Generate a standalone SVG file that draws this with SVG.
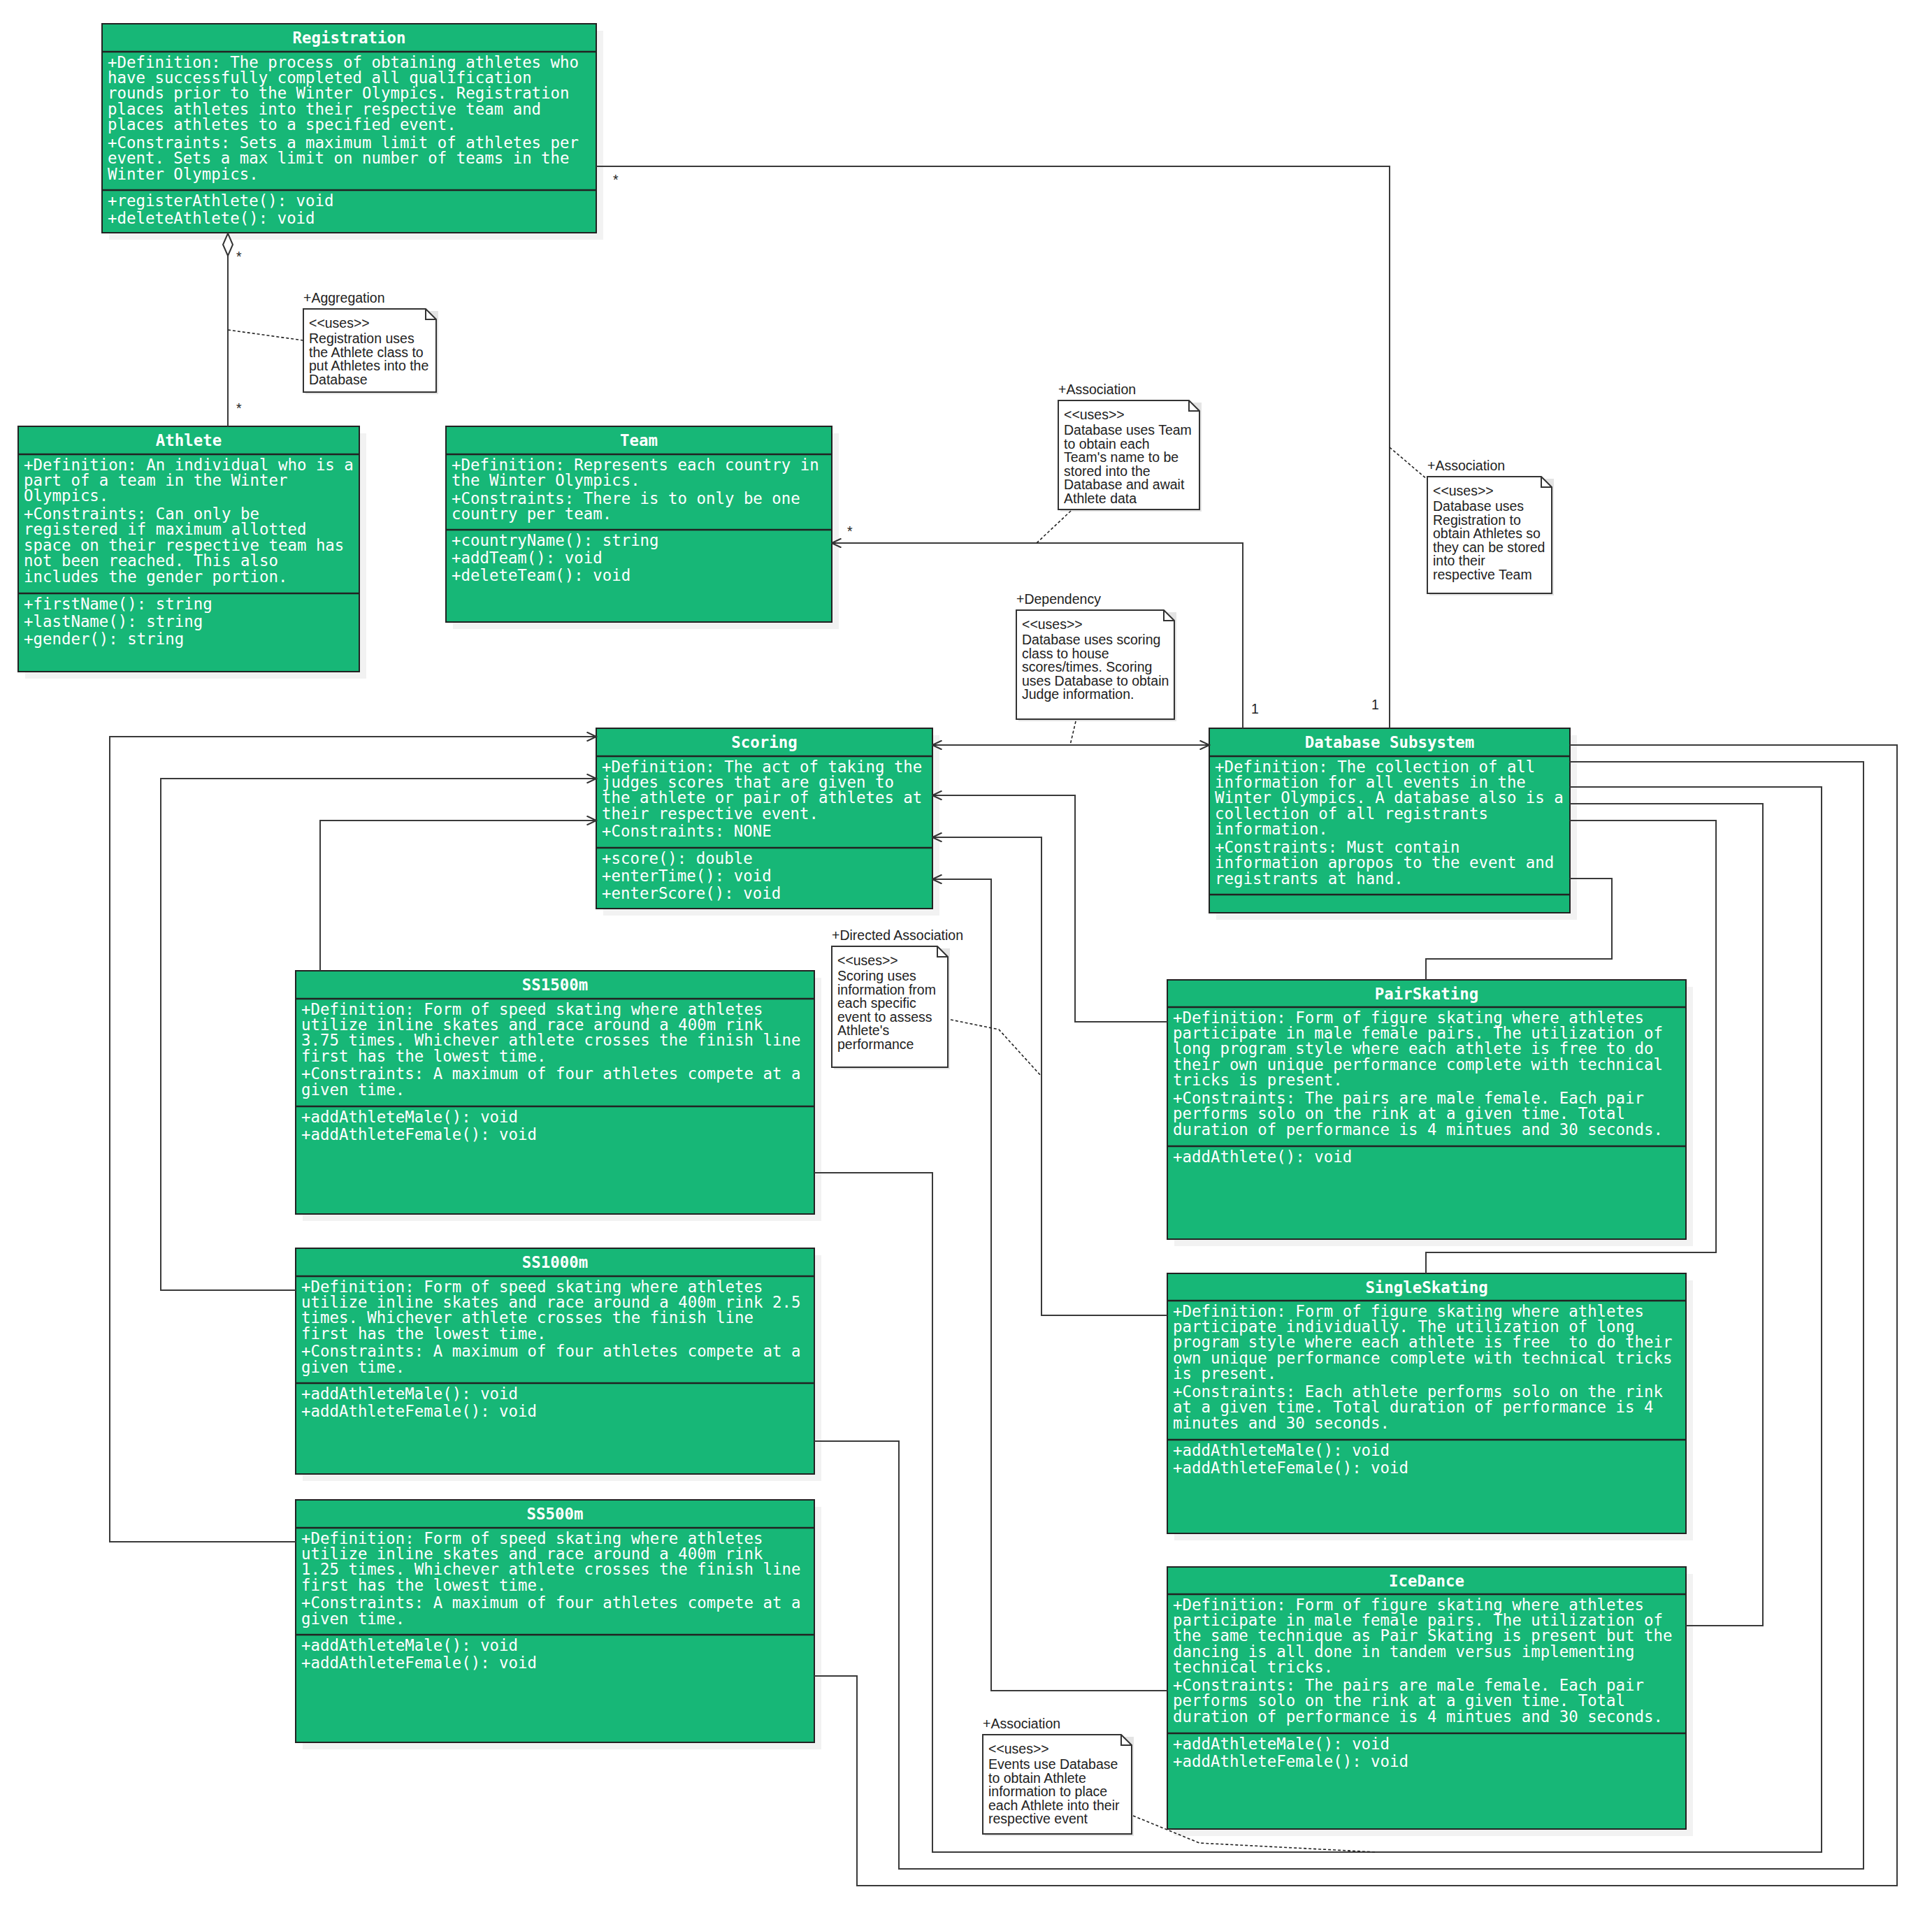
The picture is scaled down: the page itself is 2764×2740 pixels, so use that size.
<svg xmlns="http://www.w3.org/2000/svg" width="2764" height="2740" viewBox="0 0 2764 2740">
<defs>
<style>
.sh{fill:#f2f2f2}
.box{fill:#17b777;stroke:#222;stroke-width:2}
.dv{stroke:#222;stroke-width:2.5}
.t{font-family:"DejaVu Sans Mono","Liberation Mono",monospace;font-size:22.4px;fill:#fff}
.h{font-weight:bold;text-anchor:middle}
.nsh{fill:#e4e4e4}
.note{fill:#fff;stroke:#333;stroke-width:2}
.fold{fill:none;stroke:#333;stroke-width:2}
.nt{font-family:"Liberation Sans",Arial,sans-serif;font-size:19.5px;fill:#222}
.c{fill:none;stroke:#3a3a3a;stroke-width:2}
.a{marker-end:url(#arr)}
.d{fill:none;stroke:#222;stroke-width:1.6;stroke-dasharray:4 3}
</style>
<marker id="arr" viewBox="0 0 16 14" markerWidth="16" markerHeight="14" refX="14.5" refY="7" orient="auto-start-reverse" markerUnits="userSpaceOnUse">
<path d="M1,0.5 L14.5,7 L1,13.5" fill="none" stroke="#333" stroke-width="2"/>
</marker>
</defs>
<rect width="2764" height="2740" fill="#fff"/>

<g id="Registration">
<rect class="sh" x="156" y="44" width="707" height="299"/>
<rect class="box" x="146" y="34" width="707" height="299"/>
<line class="dv" x1="146" y1="74" x2="853" y2="74"/>
<line class="dv" x1="146" y1="272" x2="853" y2="272"/>
<text class="t h" x="499.5" y="62">Registration</text>
<text class="t"><tspan x="154" y="96.5">+Definition: The process of obtaining athletes who</tspan><tspan x="154" y="118.9">have successfully completed all qualification</tspan><tspan x="154" y="141.3">rounds prior to the Winter Olympics. Registration</tspan><tspan x="154" y="163.7">places athletes into their respective team and</tspan><tspan x="154" y="186.1">places athletes to a specified event.</tspan><tspan x="154" y="211.7">+Constraints: Sets a maximum limit of athletes per</tspan><tspan x="154" y="234.1">event. Sets a max limit on number of teams in the</tspan><tspan x="154" y="256.5">Winter Olympics.</tspan><tspan x="154" y="294.5">+registerAthlete(): void</tspan><tspan x="154" y="319.5">+deleteAthlete(): void</tspan></text>
</g>

<g id="Athlete">
<rect class="sh" x="36" y="620" width="488" height="351"/>
<rect class="box" x="26" y="610" width="488" height="351"/>
<line class="dv" x1="26" y1="650" x2="514" y2="650"/>
<line class="dv" x1="26" y1="849" x2="514" y2="849"/>
<text class="t h" x="270" y="638">Athlete</text>
<text class="t"><tspan x="34" y="672.5">+Definition: An individual who is a</tspan><tspan x="34" y="694.9">part of a team in the Winter</tspan><tspan x="34" y="717.3">Olympics.</tspan><tspan x="34" y="742.9">+Constraints: Can only be</tspan><tspan x="34" y="765.3">registered if maximum allotted</tspan><tspan x="34" y="787.7">space on their respective team has</tspan><tspan x="34" y="810.1">not been reached. This also</tspan><tspan x="34" y="832.5">includes the gender portion.</tspan><tspan x="34" y="871.5">+firstName(): string</tspan><tspan x="34" y="896.5">+lastName(): string</tspan><tspan x="34" y="921.5">+gender(): string</tspan></text>
</g>

<g id="Team">
<rect class="sh" x="648" y="620" width="552" height="280"/>
<rect class="box" x="638" y="610" width="552" height="280"/>
<line class="dv" x1="638" y1="650" x2="1190" y2="650"/>
<line class="dv" x1="638" y1="758" x2="1190" y2="758"/>
<text class="t h" x="914" y="638">Team</text>
<text class="t"><tspan x="646" y="672.5">+Definition: Represents each country in</tspan><tspan x="646" y="694.9">the Winter Olympics.</tspan><tspan x="646" y="720.5">+Constraints: There is to only be one</tspan><tspan x="646" y="742.9">country per team.</tspan><tspan x="646" y="780.5">+countryName(): string</tspan><tspan x="646" y="805.5">+addTeam(): void</tspan><tspan x="646" y="830.5">+deleteTeam(): void</tspan></text>
</g>

<g id="Scoring">
<rect class="sh" x="863" y="1052" width="481" height="258"/>
<rect class="box" x="853" y="1042" width="481" height="258"/>
<line class="dv" x1="853" y1="1082" x2="1334" y2="1082"/>
<line class="dv" x1="853" y1="1213" x2="1334" y2="1213"/>
<text class="t h" x="1093.5" y="1070">Scoring</text>
<text class="t"><tspan x="861" y="1104.5">+Definition: The act of taking the</tspan><tspan x="861" y="1126.9">judges scores that are given to</tspan><tspan x="861" y="1149.3">the athlete or pair of athletes at</tspan><tspan x="861" y="1171.7">their respective event.</tspan><tspan x="861" y="1197.3">+Constraints: NONE</tspan><tspan x="861" y="1235.5">+score(): double</tspan><tspan x="861" y="1260.5">+enterTime(): void</tspan><tspan x="861" y="1285.5">+enterScore(): void</tspan></text>
</g>

<g id="DatabaseSubsystem">
<rect class="sh" x="1740" y="1052" width="516" height="264"/>
<rect class="box" x="1730" y="1042" width="516" height="264"/>
<line class="dv" x1="1730" y1="1082" x2="2246" y2="1082"/>
<line class="dv" x1="1730" y1="1280" x2="2246" y2="1280"/>
<text class="t h" x="1988" y="1070">Database Subsystem</text>
<text class="t"><tspan x="1738" y="1104.5">+Definition: The collection of all</tspan><tspan x="1738" y="1126.9">information for all events in the</tspan><tspan x="1738" y="1149.3">Winter Olympics. A database also is a</tspan><tspan x="1738" y="1171.7">collection of all registrants</tspan><tspan x="1738" y="1194.1">information.</tspan><tspan x="1738" y="1219.7">+Constraints: Must contain</tspan><tspan x="1738" y="1242.1">information apropos to the event and</tspan><tspan x="1738" y="1264.5">registrants at hand.</tspan></text>
</g>

<g id="SS1500m">
<rect class="sh" x="433" y="1399" width="742" height="348"/>
<rect class="box" x="423" y="1389" width="742" height="348"/>
<line class="dv" x1="423" y1="1429" x2="1165" y2="1429"/>
<line class="dv" x1="423" y1="1583" x2="1165" y2="1583"/>
<text class="t h" x="794" y="1417">SS1500m</text>
<text class="t"><tspan x="431" y="1451.5">+Definition: Form of speed skating where athletes</tspan><tspan x="431" y="1473.9">utilize inline skates and race around a 400m rink</tspan><tspan x="431" y="1496.3">3.75 times. Whichever athlete crosses the finish line</tspan><tspan x="431" y="1518.7">first has the lowest time.</tspan><tspan x="431" y="1544.3">+Constraints: A maximum of four athletes compete at a</tspan><tspan x="431" y="1566.7">given time.</tspan><tspan x="431" y="1605.5">+addAthleteMale(): void</tspan><tspan x="431" y="1630.5">+addAthleteFemale(): void</tspan></text>
</g>

<g id="SS1000m">
<rect class="sh" x="433" y="1796" width="742" height="323"/>
<rect class="box" x="423" y="1786" width="742" height="323"/>
<line class="dv" x1="423" y1="1826" x2="1165" y2="1826"/>
<line class="dv" x1="423" y1="1979" x2="1165" y2="1979"/>
<text class="t h" x="794" y="1814">SS1000m</text>
<text class="t"><tspan x="431" y="1848.5">+Definition: Form of speed skating where athletes</tspan><tspan x="431" y="1870.9">utilize inline skates and race around a 400m rink 2.5</tspan><tspan x="431" y="1893.3">times. Whichever athlete crosses the finish line</tspan><tspan x="431" y="1915.7">first has the lowest time.</tspan><tspan x="431" y="1941.3">+Constraints: A maximum of four athletes compete at a</tspan><tspan x="431" y="1963.7">given time.</tspan><tspan x="431" y="2001.5">+addAthleteMale(): void</tspan><tspan x="431" y="2026.5">+addAthleteFemale(): void</tspan></text>
</g>

<g id="SS500m">
<rect class="sh" x="433" y="2156" width="742" height="347"/>
<rect class="box" x="423" y="2146" width="742" height="347"/>
<line class="dv" x1="423" y1="2186" x2="1165" y2="2186"/>
<line class="dv" x1="423" y1="2339" x2="1165" y2="2339"/>
<text class="t h" x="794" y="2174">SS500m</text>
<text class="t"><tspan x="431" y="2208.5">+Definition: Form of speed skating where athletes</tspan><tspan x="431" y="2230.9">utilize inline skates and race around a 400m rink</tspan><tspan x="431" y="2253.3">1.25 times. Whichever athlete crosses the finish line</tspan><tspan x="431" y="2275.7">first has the lowest time.</tspan><tspan x="431" y="2301.3">+Constraints: A maximum of four athletes compete at a</tspan><tspan x="431" y="2323.7">given time.</tspan><tspan x="431" y="2361.5">+addAthleteMale(): void</tspan><tspan x="431" y="2386.5">+addAthleteFemale(): void</tspan></text>
</g>

<g id="PairSkating">
<rect class="sh" x="1680" y="1412" width="742" height="371"/>
<rect class="box" x="1670" y="1402" width="742" height="371"/>
<line class="dv" x1="1670" y1="1441" x2="2412" y2="1441"/>
<line class="dv" x1="1670" y1="1640" x2="2412" y2="1640"/>
<text class="t h" x="2041" y="1430">PairSkating</text>
<text class="t"><tspan x="1678" y="1463.5">+Definition: Form of figure skating where athletes</tspan><tspan x="1678" y="1485.9">participate in male female pairs. The utilization of</tspan><tspan x="1678" y="1508.3">long program style where each athlete is free to do</tspan><tspan x="1678" y="1530.7">their own unique performance complete with technical</tspan><tspan x="1678" y="1553.1">tricks is present.</tspan><tspan x="1678" y="1578.7">+Constraints: The pairs are male female. Each pair</tspan><tspan x="1678" y="1601.1">performs solo on the rink at a given time. Total</tspan><tspan x="1678" y="1623.5">duration of performance is 4 mintues and 30 seconds.</tspan><tspan x="1678" y="1662.5">+addAthlete(): void</tspan></text>
</g>

<g id="SingleSkating">
<rect class="sh" x="1680" y="1832" width="742" height="372"/>
<rect class="box" x="1670" y="1822" width="742" height="372"/>
<line class="dv" x1="1670" y1="1861" x2="2412" y2="1861"/>
<line class="dv" x1="1670" y1="2060" x2="2412" y2="2060"/>
<text class="t h" x="2041" y="1850">SingleSkating</text>
<text class="t" xml:space="preserve"><tspan x="1678" y="1883.5">+Definition: Form of figure skating where athletes</tspan><tspan x="1678" y="1905.9">participate individually. The utilization of long</tspan><tspan x="1678" y="1928.3">program style where each athlete is free  to do their</tspan><tspan x="1678" y="1950.7">own unique performance complete with technical tricks</tspan><tspan x="1678" y="1973.1">is present.</tspan><tspan x="1678" y="1998.7">+Constraints: Each athlete performs solo on the rink</tspan><tspan x="1678" y="2021.1">at a given time. Total duration of performance is 4</tspan><tspan x="1678" y="2043.5">minutes and 30 seconds.</tspan><tspan x="1678" y="2082.5">+addAthleteMale(): void</tspan><tspan x="1678" y="2107.5">+addAthleteFemale(): void</tspan></text>
</g>

<g id="IceDance">
<rect class="sh" x="1680" y="2252" width="742" height="375"/>
<rect class="box" x="1670" y="2242" width="742" height="375"/>
<line class="dv" x1="1670" y1="2281" x2="2412" y2="2281"/>
<line class="dv" x1="1670" y1="2480" x2="2412" y2="2480"/>
<text class="t h" x="2041" y="2270">IceDance</text>
<text class="t"><tspan x="1678" y="2303.5">+Definition: Form of figure skating where athletes</tspan><tspan x="1678" y="2325.9">participate in male female pairs. The utilization of</tspan><tspan x="1678" y="2348.3">the same technique as Pair Skating is present but the</tspan><tspan x="1678" y="2370.7">dancing is all done in tandem versus implementing</tspan><tspan x="1678" y="2393.1">technical tricks.</tspan><tspan x="1678" y="2418.7">+Constraints: The pairs are male female. Each pair</tspan><tspan x="1678" y="2441.1">performs solo on the rink at a given time. Total</tspan><tspan x="1678" y="2463.5">duration of performance is 4 mintues and 30 seconds.</tspan><tspan x="1678" y="2502.5">+addAthleteMale(): void</tspan><tspan x="1678" y="2527.5">+addAthleteFemale(): void</tspan></text>
</g>

<g id="NoteAggregation">
<rect class="nsh" x="437" y="445" width="190" height="119"/>
<path class="note" d="M434,442 H609 L624,457 V561 H434 Z"/>
<path class="fold" d="M609,442 V457 H624"/>
<text class="nt" x="434" y="433">+Aggregation</text>
<text class="nt"><tspan x="442" y="469">&lt;&lt;uses&gt;&gt;</tspan><tspan x="442" y="491">Registration uses</tspan><tspan x="442" y="510.6">the Athlete class to</tspan><tspan x="442" y="530.2">put Athletes into the</tspan><tspan x="442" y="549.8">Database</tspan></text>
</g>

<g id="NoteTeamAssociation">
<rect class="nsh" x="1517" y="576" width="202" height="156"/>
<path class="note" d="M1514,573 H1701 L1716,588 V729 H1514 Z"/>
<path class="fold" d="M1701,573 V588 H1716"/>
<text class="nt" x="1514" y="564">+Association</text>
<text class="nt"><tspan x="1522" y="600">&lt;&lt;uses&gt;&gt;</tspan><tspan x="1522" y="622">Database uses Team</tspan><tspan x="1522" y="641.6">to obtain each</tspan><tspan x="1522" y="661.2">Team's name to be</tspan><tspan x="1522" y="680.8">stored into the</tspan><tspan x="1522" y="700.4">Database and await</tspan><tspan x="1522" y="720">Athlete data</tspan></text>
</g>

<g id="NoteRegAssociation">
<rect class="nsh" x="2045" y="685" width="178" height="167"/>
<path class="note" d="M2042,682 H2205 L2220,697 V849 H2042 Z"/>
<path class="fold" d="M2205,682 V697 H2220"/>
<text class="nt" x="2042" y="673">+Association</text>
<text class="nt"><tspan x="2050" y="709">&lt;&lt;uses&gt;&gt;</tspan><tspan x="2050" y="731">Database uses</tspan><tspan x="2050" y="750.6">Registration to</tspan><tspan x="2050" y="770.2">obtain Athletes so</tspan><tspan x="2050" y="789.8">they can be stored</tspan><tspan x="2050" y="809.4">into their</tspan><tspan x="2050" y="829">respective Team</tspan></text>
</g>

<g id="NoteDependency">
<rect class="nsh" x="1457" y="876" width="226" height="156"/>
<path class="note" d="M1454,873 H1665 L1680,888 V1029 H1454 Z"/>
<path class="fold" d="M1665,873 V888 H1680"/>
<text class="nt" x="1454" y="864">+Dependency</text>
<text class="nt"><tspan x="1462" y="900">&lt;&lt;uses&gt;&gt;</tspan><tspan x="1462" y="922">Database uses scoring</tspan><tspan x="1462" y="941.6">class to house</tspan><tspan x="1462" y="961.2">scores/times. Scoring</tspan><tspan x="1462" y="980.8">uses Database to obtain</tspan><tspan x="1462" y="1000.4">Judge information.</tspan></text>
</g>

<g id="NoteDirectedAssociation">
<rect class="nsh" x="1193" y="1357" width="166" height="173"/>
<path class="note" d="M1190,1354 H1341 L1356,1369 V1527 H1190 Z"/>
<path class="fold" d="M1341,1354 V1369 H1356"/>
<text class="nt" x="1190" y="1345">+Directed Association</text>
<text class="nt"><tspan x="1198" y="1381">&lt;&lt;uses&gt;&gt;</tspan><tspan x="1198" y="1403">Scoring uses</tspan><tspan x="1198" y="1422.6">information from</tspan><tspan x="1198" y="1442.2">each specific</tspan><tspan x="1198" y="1461.8">event to assess</tspan><tspan x="1198" y="1481.4">Athlete's</tspan><tspan x="1198" y="1501">performance</tspan></text>
</g>

<g id="NoteEventsAssociation">
<rect class="nsh" x="1409" y="2485" width="213" height="142"/>
<path class="note" d="M1406,2482 H1604 L1619,2497 V2624 H1406 Z"/>
<path class="fold" d="M1604,2482 V2497 H1619"/>
<text class="nt" x="1406" y="2473">+Association</text>
<text class="nt"><tspan x="1414" y="2509">&lt;&lt;uses&gt;&gt;</tspan><tspan x="1414" y="2531">Events use Database</tspan><tspan x="1414" y="2550.6">to obtain Athlete</tspan><tspan x="1414" y="2570.2">information to place</tspan><tspan x="1414" y="2589.8">each Athlete into their</tspan><tspan x="1414" y="2609.4">respective event</tspan></text>
</g>

<g id="connectors">
<polyline class="c" points="853,238 1988,238 1988,1042"/>
<polyline class="c" points="326,366 326,610"/>
<polygon points="326,334 333,350 326,366 319,350" fill="#fff" stroke="#333" stroke-width="2"/>
<polyline class="c a" points="1778,1042 1778,777 1190,777"/>
<line class="c" x1="1334" y1="1066" x2="1730" y2="1066" style="marker-start:url(#arr);marker-end:url(#arr)"/>
<polyline class="c a" points="458,1389 458,1174 853,1174"/>
<polyline class="c a" points="423,1846 230,1846 230,1114 853,1114"/>
<polyline class="c a" points="423,2206 157,2206 157,1054 853,1054"/>
<polyline class="c a" points="1670,1462 1538,1462 1538,1138 1334,1138"/>
<polyline class="c a" points="1670,1882 1490,1882 1490,1198 1334,1198"/>
<polyline class="c a" points="1670,2419 1418,2419 1418,1258 1334,1258"/>
<polyline class="c" points="2246,1066 2714,1066 2714,2698 1226,2698 1226,2398 1165,2398"/>
<polyline class="c" points="2246,1090 2666,1090 2666,2674 1286,2674 1286,2062 1165,2062"/>
<polyline class="c" points="2246,1126 2606,1126 2606,2650 1334,2650 1334,1678 1165,1678"/>
<polyline class="c" points="2246,1150 2522,1150 2522,2326 2412,2326"/>
<polyline class="c" points="2246,1174 2455,1174 2455,1792 2040,1792 2040,1822"/>
<polyline class="c" points="2246,1257 2306,1257 2306,1372 2040,1372 2040,1402"/>
<polyline class="d" points="326,472 434,487"/>
<polyline class="d" points="1532,731 1483,777"/>
<polyline class="d" points="1988,640 2042,686"/>
<polyline class="d" points="1539,1032 1531,1066"/>
<polyline class="d" points="1360,1459 1429,1473 1489,1539"/>
<polyline class="d" points="1621,2598 1716,2637 1969,2650"/>
<g class="nt">
<text x="877" y="264">*</text>
<text x="338" y="374">*</text>
<text x="338" y="591">*</text>
<text x="1212" y="767">*</text>
<text x="1790" y="1021">1</text>
<text x="1962" y="1015">1</text>
</g>
</g>
</svg>
